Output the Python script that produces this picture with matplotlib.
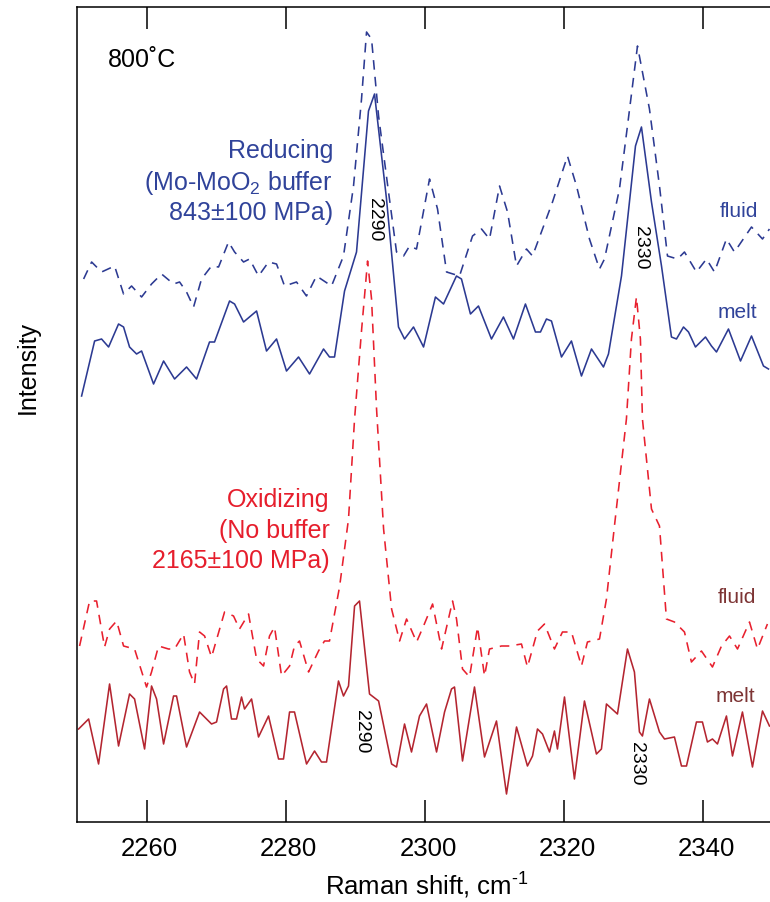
import matplotlib
matplotlib.use("Agg")
import matplotlib.pyplot as plt
from matplotlib.transforms import ScaledTranslation

plt.rcParams['font.family'] = ['Liberation Sans', 'DejaVu Sans']
plt.rcParams['mathtext.fontset'] = 'custom'
plt.rcParams['mathtext.rm'] = 'Liberation Sans'
plt.rcParams['mathtext.it'] = 'Liberation Sans:italic'

# ---- spectra (Raman shift in cm-1, intensity in arbitrary units) ----
red_melt_x = [2250.23, 2251.67, 2253.1, 2254.68, 2255.97, 2257.55, 2258.27, 2259.71, 2260.71, 2261.43,
              2262.44, 2263.87, 2264.3, 2265.74, 2267.61, 2269.33, 2270.05, 2271.06, 2271.49, 2272.2,
              2272.92, 2273.64, 2274.07, 2275.08, 2276.08, 2277.52, 2278.96, 2279.67, 2280.54, 2281.25,
              2282.98, 2284.13, 2285.13, 2285.85, 2287.57, 2288.29, 2289.01, 2289.88, 2290.59, 2292.03,
              2293.33, 2295.2, 2295.91, 2297.06, 2298.06, 2299.21, 2300.22, 2301.66, 2302.81, 2303.81,
              2304.24, 2305.39, 2307.11, 2308.55, 2310.27, 2311.71, 2313.15, 2314.72, 2315.45, 2316.16,
              2316.88, 2317.89, 2318.6, 2319.03, 2320.04, 2321.47, 2322.91, 2324.63, 2325.35, 2326.07,
              2327.65, 2329.09, 2330.09, 2330.81, 2331.24, 2332.25, 2333.69, 2334.41, 2335.84, 2336.85,
              2337.57, 2339.0, 2339.86, 2340.58, 2341.3, 2342.02, 2343.31, 2344.18, 2345.61, 2347.05,
              2348.49, 2349.49]
red_melt_y = [93, 103, 58, 138, 76, 128, 123, 73, 136, 123,
              78, 126, 126, 75, 110, 98, 100, 133, 136, 103,
              103, 125, 113, 123, 85, 106, 63, 63, 110, 110,
              58, 71, 60, 60, 141, 126, 136, 216, 221, 128,
              121, 58, 55, 98, 70, 106, 118, 70, 110, 133,
              135, 61, 135, 65, 101, 28, 95, 56, 66, 93,
              88, 70, 91, 73, 125, 43, 121, 68, 73, 118,
              108, 173, 150, 90, 86, 123, 90, 83, 85, 56,
              56, 100, 100, 80, 83, 78, 106, 66, 110, 55,
              111, 96]

red_fluid_x = [2250.37, 2251.81, 2252.81, 2253.96, 2254.68, 2255.69, 2256.69, 2258.27, 2259.99, 2260.71,
               2261.72, 2263.15, 2264.02, 2265.31, 2266.17, 2266.89, 2267.61, 2268.33, 2269.33, 2271.2,
               2272.49, 2273.35, 2274.65, 2275.8, 2276.8, 2277.66, 2278.38, 2279.39, 2280.54, 2281.25,
               2281.97, 2283.27, 2284.7, 2285.56, 2286.28, 2287.72, 2289.01, 2289.88, 2290.9, 2291.75,
               2292.32, 2293.04, 2294.05, 2295.2, 2296.35, 2297.35, 2298.79, 2299.79, 2301.09, 2302.38,
               2303.96, 2304.53, 2305.39, 2306.4, 2307.55, 2308.55, 2309.27, 2310.99, 2312.14, 2313.86,
               2314.72, 2316.16, 2317.17, 2318.6, 2319.75, 2321.04, 2322.48, 2323.34, 2325.07, 2326.07,
               2327.22, 2328.94, 2329.66, 2330.38, 2330.95, 2331.24, 2332.54, 2333.69, 2334.69, 2335.84,
               2337.28, 2338.28, 2339.72, 2341.3, 2342.6, 2343.75, 2344.9, 2346.62, 2347.77, 2349.2]
red_fluid_y = [176, 221, 221, 175, 193, 201, 176, 173, 135, 150,
               176, 173, 173, 188, 150, 138, 190, 186, 165, 210,
               206, 193, 208, 163, 156, 186, 195, 146, 156, 176,
               181, 150, 171, 181, 181, 235, 303, 403, 493, 561,
               523, 413, 293, 213, 181, 203, 180, 196, 218, 173,
               221, 203, 153, 145, 195, 146, 173, 176, 176, 178,
               155, 191, 198, 173, 190, 190, 156, 180, 183, 223,
               296, 403, 483, 525, 483, 403, 313, 296, 203, 200,
               190, 160, 171, 155, 176, 186, 173, 200, 173, 198]

blue_melt_x = [2250.66, 2252.53, 2253.53, 2254.54, 2255.97, 2256.69, 2257.55, 2258.56, 2259.28, 2261.0,
               2262.44, 2264.02, 2265.74, 2267.18, 2269.04, 2269.76, 2271.92, 2272.64, 2273.93, 2275.8,
               2277.23, 2278.67, 2280.1, 2281.83, 2283.41, 2285.42, 2286.28, 2287.0, 2288.44, 2290.16,
               2291.88, 2292.75, 2294.47, 2296.19, 2297.06, 2298.35, 2299.79, 2301.5, 2302.66, 2304.52,
               2305.24, 2306.53, 2307.68, 2309.55, 2311.27, 2312.71, 2314.43, 2315.87, 2316.59, 2317.45,
               2318.17, 2319.61, 2321.04, 2322.48, 2323.92, 2325.64, 2326.36, 2328.23, 2330.24, 2331.1,
               2332.54, 2333.98, 2335.41, 2336.13, 2337.14, 2337.86, 2338.86, 2340.3, 2341.16, 2341.88,
               2343.6, 2345.33, 2346.91, 2348.63, 2349.35]
blue_melt_y = [426, 481, 483, 475, 498, 495, 475, 468, 471, 438,
               461, 443, 455, 443, 480, 480, 521, 518, 500, 511,
               471, 483, 451, 465, 448, 473, 465, 465, 531, 570,
               711, 728, 623, 495, 483, 495, 475, 525, 518, 546,
               543, 508, 516, 483, 505, 483, 518, 490, 490, 503,
               501, 465, 481, 446, 473, 455, 468, 546, 676, 695,
               620, 556, 485, 483, 495, 490, 475, 485, 476, 470,
               493, 461, 486, 456, 453]

blue_fluid_x = [2250.95, 2252.1, 2253.53, 2255.4, 2256.69, 2257.84, 2259.28, 2260.71, 2262.15, 2263.87,
                2264.74, 2265.74, 2266.75, 2267.89, 2269.33, 2270.34, 2271.77, 2272.64, 2273.93, 2274.79,
                2276.08, 2277.52, 2278.67, 2279.82, 2281.54, 2282.97, 2284.41, 2286.57, 2288.29, 2289.73,
                2290.88, 2291.6, 2292.32, 2293.33, 2294.76, 2295.91, 2296.92, 2297.78, 2298.78, 2300.65,
                2301.8, 2303.1, 2304.96, 2306.83, 2308.12, 2309.27, 2310.71, 2311.86, 2313.15, 2314.58,
                2315.45, 2318.32, 2320.47, 2321.77, 2323.63, 2325.07, 2325.79, 2327.94, 2329.09, 2330.53,
                2332.25, 2333.69, 2334.84, 2336.28, 2337.28, 2339.0, 2340.44, 2341.59, 2343.31, 2344.46,
                2346.91, 2348.49, 2349.49]
blue_fluid_y = [543, 560, 550, 556, 528, 536, 525, 538, 548, 538,
                540, 530, 515, 543, 556, 555, 580, 570, 560, 563,
                546, 560, 558, 536, 540, 526, 546, 536, 566, 636,
                723, 790, 783, 706, 630, 570, 566, 576, 573, 643,
                613, 550, 546, 586, 593, 583, 636, 610, 556, 573,
                566, 620, 666, 636, 583, 553, 563, 633, 696, 776,
                713, 636, 566, 563, 570, 550, 563, 550, 583, 570,
                595, 583, 593]

x_ticks = [2260, 2280, 2300, 2320, 2340]

# ---- colours ----
BLUE = '#2c3a92'
BLUE_TXT = '#30439a'
RED_DASH = '#e8202e'
RED_SOLID = '#b42530'
RED_TXT = '#e61e2c'
BROWN_TXT = '#7d3434'

fig = plt.figure(figsize=(7.7, 9.03), dpi=100)
ax = fig.add_axes([77 / 770, 80 / 903, 696 / 770, 815 / 903])

lw = 1.15
ax.plot(blue_fluid_x, blue_fluid_y, color=BLUE, lw=lw, dashes=(6, 4.5))
ax.plot(blue_melt_x, blue_melt_y, color=BLUE, lw=lw)
ax.plot(red_fluid_x, red_fluid_y, color=RED_DASH, lw=lw, dashes=(6, 4.5))
ax.plot(red_melt_x, red_melt_y, color=RED_SOLID, lw=lw)

ax.set_xlim(2250, 2350)
ax.set_ylim(0, 815)
ax.set_yticks([])
ax.set_xticks(x_ticks)
ax.tick_params(axis='x', direction='in', length=16, width=1.1, top=True, bottom=True,
               labelsize=18.5, pad=10, colors='black')
shift = ScaledTranslation(3 / 100, 0, fig.dpi_scale_trans)
for lab in ax.get_xticklabels():
    lab.set_transform(lab.get_transform() + shift)
for side in ('left', 'top', 'bottom'):
    ax.spines[side].set_linewidth(1.1)
ax.spines['right'].set_visible(False)

# temperature
ax.text(2254.4, 763, '800˚C', fontsize=18, ha='left', va='center')

# condition labels
ax.text(2286.8, 665, 'Reducing', color=BLUE_TXT, fontsize=18, ha='right', va='baseline')
ax.text(2286.8, 633, r'(Mo-MoO$_2$ buffer', color=BLUE_TXT, fontsize=18, ha='right', va='baseline')
ax.text(2286.8, 603, '843±100 MPa)', color=BLUE_TXT, fontsize=18, ha='right', va='baseline')

ax.text(2286.3, 316, 'Oxidizing', color=RED_TXT, fontsize=18, ha='right', va='baseline')
ax.text(2286.3, 285, '(No buffer', color=RED_TXT, fontsize=18, ha='right', va='baseline')
ax.text(2286.3, 255, '2165±100 MPa)', color=RED_TXT, fontsize=18, ha='right', va='baseline')

# phase labels
ax.text(2342.3, 606, 'fluid', color=BLUE_TXT, fontsize=15, ha='left', va='baseline')
ax.text(2342.0, 505, 'melt', color=BLUE_TXT, fontsize=15, ha='left', va='baseline')
ax.text(2342.1, 220, 'fluid', color=BROWN_TXT, fontsize=15, ha='left', va='baseline')
ax.text(2341.7, 121, 'melt', color=BROWN_TXT, fontsize=15, ha='left', va='baseline')

# band positions
ax.text(2292.8, 603, '2290', fontsize=14, rotation=-90, ha='center', va='center')
ax.text(2330.95, 575, '2330', fontsize=14, rotation=-90, ha='center', va='center')
ax.text(2290.9, 91, '2290', fontsize=14, rotation=-90, ha='center', va='center')
ax.text(2330.4, 59, '2330', fontsize=14, rotation=-90, ha='center', va='center')

fig.text(427 / 770, 1 - 895 / 903, r'Raman shift, cm$^{\text{-1}}$', fontsize=18.5,
         ha='center', va='baseline')
fig.text(28 / 770, 1 - 368 / 903, 'Intensity', fontsize=18, rotation=90, ha='center', va='center')

fig.savefig('out.png', dpi=100)
